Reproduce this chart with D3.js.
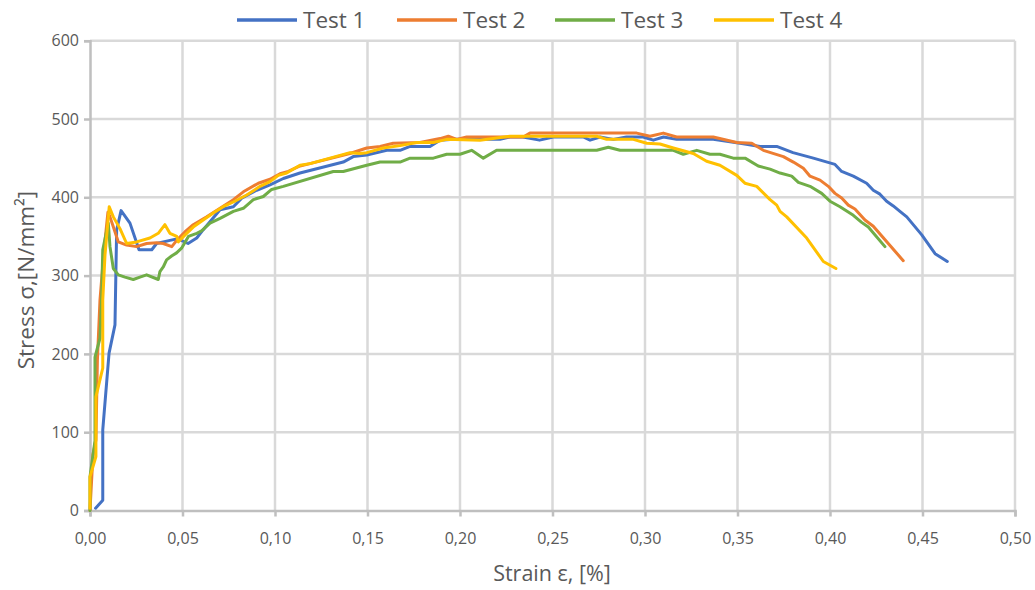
<!DOCTYPE html>
<html><head><meta charset="utf-8">
<script src="https://cdn.jsdelivr.net/npm/d3@7"></script>
<style>
html,body{margin:0;padding:0;background:#fff;}
text{font-family:"Open Sans",sans-serif;fill:#595959;}
</style></head>
<body>
<svg id="chart" width="1035" height="590"></svg>
<script>
// ---- data (strain [%], stress [N/mm²]) ----
const seriesNames = ["Test 1", "Test 2", "Test 3", "Test 4"];
const seriesColors = ["#4472c4", "#ed7d31", "#70ad47", "#ffc000"];
const xTicks = [0, 0.05, 0.10, 0.15, 0.20, 0.25, 0.30, 0.35, 0.40, 0.45, 0.50];
const yTicks = [0, 100, 200, 300, 400, 500, 600];

const test1 = [[0.003,3],[0.0069,13],[0.0069,103],[0.0103,201],[0.0135,237],[0.0144,358],[0.0168,383],[0.0216,367],[0.0265,333],[0.0334,333],[0.036,341],[0.0432,345],[0.0475,347],[0.053,341],[0.0577,348],[0.061,358],[0.0703,384],[0.0775,388],[0.082,399],[0.0901,409],[0.0973,416],[0.1045,424],[0.1135,431],[0.1369,445],[0.1423,452],[0.1496,454],[0.1604,460],[0.1676,460],[0.173,465],[0.1838,465],[0.1892,473],[0.1964,474],[0.2216,474],[0.227,477],[0.234,477],[0.243,473],[0.2504,477],[0.2666,477],[0.2703,473],[0.2757,477],[0.2829,474],[0.290,477],[0.299,477],[0.3045,473],[0.310,477],[0.3171,474],[0.3369,474],[0.3514,469],[0.3622,465],[0.3712,465],[0.380,457],[0.391,450],[0.4027,442],[0.4063,433],[0.4126,427],[0.4198,418],[0.4234,409],[0.427,404],[0.4306,395],[0.4342,389],[0.4378,382],[0.4415,375],[0.4496,352],[0.4568,328],[0.4634,318]];

const test2 = [[0,0],[0.0016,71],[0.0032,90],[0.004,192],[0.0054,269],[0.0076,333],[0.0097,381],[0.0108,375],[0.0135,356],[0.0153,343],[0.0198,339],[0.0252,337],[0.0306,341],[0.036,342],[0.0396,341],[0.0442,337],[0.0469,345],[0.0514,356],[0.0558,365],[0.0631,375],[0.0703,386],[0.0775,397],[0.0829,407],[0.091,418],[0.0973,423],[0.1027,430],[0.1072,433],[0.1135,440],[0.1189,443],[0.1405,456],[0.1496,463],[0.1568,465],[0.1639,469],[0.1784,470],[0.1892,475],[0.1937,478],[0.1982,474],[0.2036,477],[0.2342,477],[0.2378,482],[0.2955,482],[0.3027,478],[0.3099,482],[0.3171,477],[0.3369,477],[0.3496,470],[0.3577,469],[0.364,460],[0.3748,452],[0.3802,445],[0.3856,437],[0.3892,427],[0.3946,422],[0.3991,414],[0.4027,405],[0.4063,399],[0.4099,390],[0.4135,385],[0.4189,371],[0.4234,363],[0.4396,319]];

const test3 = [[0,0],[0,43],[0.0027,89],[0.0027,196],[0.0054,220],[0.0063,273],[0.0069,333],[0.0099,367],[0.0108,337],[0.0126,309],[0.0153,301],[0.0189,298],[0.0234,295],[0.027,298],[0.0306,301],[0.0369,295],[0.0378,305],[0.0396,311],[0.0414,320],[0.0441,325],[0.0468,329],[0.0495,335],[0.0532,350],[0.0577,354],[0.0603,357],[0.0649,367],[0.0703,373],[0.0775,382],[0.0829,386],[0.0883,397],[0.0937,401],[0.0982,410],[0.1045,414],[0.1315,433],[0.1369,433],[0.1496,441],[0.1568,445],[0.1676,445],[0.173,450],[0.1856,450],[0.1928,455],[0.2,455],[0.2063,460],[0.2126,450],[0.2198,460],[0.2739,460],[0.2802,464],[0.2865,460],[0.3153,460],[0.3207,455],[0.328,460],[0.3351,455],[0.3405,455],[0.3477,450],[0.3541,450],[0.3612,440],[0.3676,436],[0.373,431],[0.3793,427],[0.3829,419],[0.3892,414],[0.3955,405],[0.4,395],[0.4054,388],[0.4126,377],[0.4171,368],[0.4207,362],[0.4297,337]];

const test4 = [[0,3],[0,43],[0.0032,69],[0.0032,145],[0.0069,182],[0.0069,269],[0.0081,326],[0.0104,388],[0.0126,375],[0.0162,360],[0.0198,341],[0.0252,343],[0.0324,348],[0.0369,354],[0.0405,365],[0.0432,354],[0.0469,350],[0.0477,343],[0.0514,352],[0.0558,362],[0.0612,371],[0.0666,380],[0.072,388],[0.0775,394],[0.0847,403],[0.0919,414],[0.0973,420],[0.1018,428],[0.1063,431],[0.1135,441],[0.1189,443],[0.1405,457],[0.1459,456],[0.1496,457],[0.1585,463],[0.1676,466],[0.1766,470],[0.1856,470],[0.1928,474],[0.2108,473],[0.227,478],[0.2739,478],[0.2793,474],[0.2937,474],[0.3009,469],[0.3081,468],[0.3153,463],[0.3261,456],[0.3333,446],[0.3405,441],[0.3496,428],[0.354,418],[0.3604,414],[0.3676,397],[0.3712,390],[0.373,382],[0.3766,375],[0.3874,348],[0.3964,318],[0.4032,309]];

const allSeries = [test1, test2, test3, test4];

// ---- layout ----
const svg = d3.select("#chart");
const x = d3.scaleLinear().domain([0, 0.5]).range([90, 1015]);
const y = d3.scaleLinear().domain([0, 600]).range([510.5, 40.7]);
const fmtX = v => d3.format(".2f")(v).replace(".", ",");

const grid = svg.append("g");
grid.selectAll("line.vx").data(xTicks.slice(1)).join("line")
  .attr("x1", d => x(d)).attr("x2", d => x(d))
  .attr("y1", y(600)).attr("y2", y(0))
  .attr("stroke", "#d9d9d9").attr("stroke-width", 2.5);
grid.selectAll("line.hy").data(yTicks.slice(1)).join("line")
  .attr("x1", x(0)).attr("x2", x(0.5))
  .attr("y1", d => y(d)).attr("y2", d => y(d))
  .attr("stroke", "#d9d9d9").attr("stroke-width", 2.5);

// y axis (left)
const yAxis = svg.append("g").attr("transform", `translate(${x(0)},0)`)
  .call(d3.axisLeft(y).tickValues(yTicks).tickSize(6).tickPadding(5));
yAxis.select(".domain").attr("stroke", "#bfbfbf").attr("stroke-width", 2.5);
yAxis.selectAll(".tick line").attr("stroke", "#bfbfbf").attr("stroke-width", 2.5);
yAxis.selectAll(".tick text").style("font-size", "16px").style("fill", "#595959");

// x axis (bottom)
const xAxis = svg.append("g").attr("transform", `translate(0,${y(0)})`)
  .call(d3.axisBottom(x).tickValues(xTicks).tickFormat(fmtX).tickSize(6).tickPadding(16));
xAxis.select(".domain").attr("stroke", "#bfbfbf").attr("stroke-width", 2.5);
xAxis.selectAll(".tick line").attr("stroke", "#bfbfbf").attr("stroke-width", 2.5);
xAxis.selectAll(".tick text").style("font-size", "16px").style("fill", "#595959");

// series
const line = d3.line().x(d => x(d[0])).y(d => y(d[1]));
svg.append("g").selectAll("path").data(allSeries).join("path")
  .attr("d", line)
  .attr("fill", "none")
  .attr("stroke", (d, i) => seriesColors[i])
  .attr("stroke-width", 3)
  .attr("stroke-linejoin", "round")
  .attr("stroke-linecap", "round");

// axis titles
svg.append("text").attr("x", 552).attr("y", 581)
  .attr("text-anchor", "middle").style("font-size", "21.5px")
  .text("Strain ε, [%]");
svg.append("text")
  .attr("transform", "translate(34,280) rotate(-90)")
  .attr("text-anchor", "middle").style("font-size", "22.5px")
  .text("Stress σ,[N/mm²]");

// legend
const legendStarts = [237, 397, 555, 714];
const lg = svg.append("g");
seriesNames.forEach((name, i) => {
  const g = lg.append("g").attr("transform", `translate(${legendStarts[i]},20)`);
  g.append("line").attr("x1", 0).attr("x2", 60).attr("y1", 0).attr("y2", 0)
    .attr("stroke", seriesColors[i]).attr("stroke-width", 3.5);
  g.append("text").attr("x", 66).attr("y", 8).style("font-size", "22.5px").text(name);
});
</script>
</body></html>
